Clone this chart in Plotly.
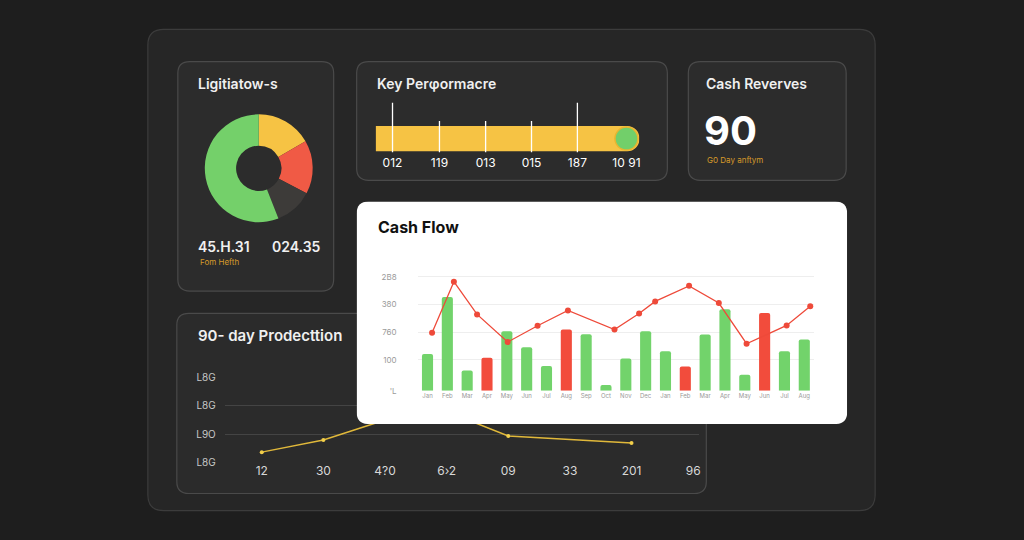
import plotly.graph_objects as go

W, H = 1024, 540
# empirical vertical correction for the capture (figure is shown in ~y 8..533)
OFF, SC = 7.8, 0.973
def fx(p): return p / W
def fy(p): return 1 - ((p - OFF) / SC) / H

# ---------------- data ----------------
donut_labels = ["Active", "Pending", "Closed", "Won"]
donut_values = [16.7, 16, 11.4, 56]
donut_colors = ["#f6c344", "#f05a45", "#3d3b39", "#74d06a"]

kpi_mark_x = [6.4, 24.2, 41.7, 59.1, 76.5]
kpi_mark_h = [51, 33, 33, 33, 51]
kpi_tick_vals = [6.4, 24.2, 41.7, 59.1, 76.5, 95.1]
kpi_tick_text = ["012", "119", "013", "015", "187", "10 91"]
kpi_value = 100
kpi_dot = 95.1

proj_ticks = ["12", "30", "4?0", "6›2", "09", "33", "201", "96"]
proj_x = [0, 1, 2, 3, 4, 6]
proj_y = [0.36, 0.79, 1.5, 1.8, 0.93, 0.68]
proj_ylabels = ["L8G", "L9O", "L8G", "L8G"]

cf_labels = ["Jan", "Feb", "Mar", "Apr", "May", "Jun", "Jul", "Aug", "Sep", "Oct",
             "Nov", "Dec", "Jan", "Feb", "Mar", "Apr", "May", "Jun", "Jul", "Aug"]
cf_bars = [133, 339, 73, 119, 215, 157, 90, 221, 204, 21,
           117, 215, 143, 88, 203, 295, 58, 281, 143, 185]
cf_neg = [3, 7, 13, 17]
cf_line_x = [0.23, 1.33, 2.5, 4.04, 5.55, 7.08, 9.43, 10.67, 11.48, 13.19, 14.69, 16.09, 18.11, 19.3]
cf_line_y = [210, 394, 276, 176, 235, 290, 221, 279, 323, 379, 317, 170, 236, 305]
cf_ytick_vals = [0, 111.6, 211.6, 311.6, 411.6]
cf_ytick_text = ["'L", "100", "760", "380", "2B8"]

GREEN, RED, YELLOW = "#72d36b", "#f24c3c", "#f6c344"
FONT = "Inter"

fig = go.Figure()

def rrect(x0, y0, x1, y1, r, fill, line, lw=1.2):
    X0, X1 = fx(x0), fx(x1)
    Y0, Y1 = fy(y0), fy(y1)
    rx, ry = r / W, r / H
    path = (f"M{X0+rx},{Y0} L{X1-rx},{Y0} Q{X1},{Y0} {X1},{Y0-ry} "
            f"L{X1},{Y1+ry} Q{X1},{Y1} {X1-rx},{Y1} L{X0+rx},{Y1} "
            f"Q{X0},{Y1} {X0},{Y1+ry} L{X0},{Y0-ry} Q{X0},{Y0} {X0+rx},{Y0} Z")
    return dict(type="path", path=path, xref="paper", yref="paper",
                fillcolor=fill, line=dict(color=line, width=lw), layer="below")

shapes = [
    rrect(148, 31, 876, 509, 16, "#262626", "#3c3c3c"),
    rrect(178, 63, 334, 291, 12, "#2c2c2c", "#4a4a4a"),
    rrect(357, 63, 668, 181, 12, "#2c2c2c", "#4a4a4a"),
    rrect(689, 63, 847, 181, 12, "#2c2c2c", "#4a4a4a"),
    rrect(177, 313, 707, 492, 12, "#2b2b2b", "#4a4a4a"),
]

# ---------- donut ----------
fig.add_trace(go.Pie(labels=donut_labels, values=donut_values, hole=0.42, sort=False,
                     direction="clockwise", rotation=0, textinfo="none",
                     marker=dict(colors=donut_colors, line=dict(width=0)),
                     domain=dict(x=[fx(205), fx(313)], y=[fy(223), fy(115)]),
                     showlegend=False))

# ---------- 90-day projection (x/y) ----------
fig.add_trace(go.Scatter(x=proj_x, y=proj_y, mode="lines+markers", xaxis="x", yaxis="y",
                         line=dict(color="#e0b83a", width=1.5),
                         marker=dict(size=4, color="#f2cf4a"), showlegend=False))

# ---------- white panel (x2/y2) ----------
fig.add_trace(go.Scatter(x=[None], y=[None], xaxis="x2", yaxis="y2", showlegend=False))
r = 12
shapes.append(dict(type="path", xref="x2", yref="y2", layer="below",
                   path=(f"M{r},0 L{491-r},0 Q491,0 491,{r} L491,{221-r} Q491,221 {491-r},221 "
                         f"L{r},221 Q0,221 0,{221-r} L0,{r} Q0,0 {r},0 Z"),
                   fillcolor="#ffffff", line=dict(width=0)))

# ---------- cash flow (x3/y3) ----------
bar_colors = [RED if i in cf_neg else GREEN for i in range(len(cf_bars))]
fig.add_trace(go.Bar(x=list(range(len(cf_bars))), y=cf_bars, xaxis="x3", yaxis="y3",
                     width=0.56, marker=dict(color=bar_colors, line=dict(width=0), cornerradius=2),
                     showlegend=False))
fig.add_trace(go.Scatter(x=cf_line_x, y=cf_line_y, mode="lines+markers", xaxis="x3", yaxis="y3",
                         line=dict(color="#ee4a3a", width=1.3),
                         marker=dict(size=6, color="#ee4a3a"), showlegend=False))

# ---------- KPI bar (x4/y4) ----------
fig.add_trace(go.Bar(x=[kpi_value], y=[15.5], width=25, orientation="h", xaxis="x4", yaxis="y4",
                     marker=dict(color=YELLOW, cornerradius="50%", line=dict(width=0)),
                     showlegend=False))
for xv, hv in zip(kpi_mark_x, kpi_mark_h):
    fig.add_trace(go.Scatter(x=[xv, xv], y=[2, hv], mode="lines", xaxis="x4", yaxis="y4",
                             line=dict(color="#ffffff", width=1.3), showlegend=False))
fig.add_trace(go.Scatter(x=[kpi_dot], y=[15.5], mode="markers", xaxis="x4", yaxis="y4",
                         marker=dict(size=23, color="#72cf6a", line=dict(color="#e8b530", width=1.5)),
                         showlegend=False))

layout_axes = dict(
    xaxis=dict(domain=[fx(225), fx(700)], range=[-0.6, 7.1], tickvals=list(range(8)),
               ticktext=proj_ticks, showgrid=False, zeroline=False, showline=False,
               tickfont=dict(color="#d8d8d8", size=12, family=FONT), ticklen=0, anchor="y"),
    yaxis=dict(domain=[fy(461), fy(377)], range=[0, 3], tickvals=[0, 1, 2, 3],
               ticktext=proj_ylabels, showgrid=True, gridcolor="#444444", gridwidth=1,
               zeroline=False, tickfont=dict(color="#c8c8c8", size=10, family=FONT), ticklen=0,
               ticklabelstandoff=8, anchor="x"),
    xaxis2=dict(domain=[fx(357), fx(848)], range=[0, 491], visible=False, fixedrange=True, anchor="y2"),
    yaxis2=dict(domain=[fy(423), fy(202)], range=[221, 0], visible=False, fixedrange=True, anchor="x2"),
    xaxis3=dict(domain=[fx(418), fx(815)], range=[-0.5, 19.5], tickvals=list(range(20)),
                ticktext=cf_labels, showgrid=False, zeroline=False, anchor="y3",
                tickfont=dict(color="#999999", size=6, family=FONT), ticklen=0),
    yaxis3=dict(domain=[fy(390), fy(390 - 430 * 0.275)], range=[0, 430], tickvals=cf_ytick_vals,
                ticktext=cf_ytick_text, showgrid=True, gridcolor="#eeeeee", zeroline=False,
                tickfont=dict(color="#9a9a9a", size=8, family=FONT), ticklen=0, anchor="x3",
                ticklabelstandoff=20),
    xaxis4=dict(domain=[fx(376), fx(640)], range=[0, 100], tickvals=kpi_tick_vals,
                ticktext=kpi_tick_text, showgrid=False, zeroline=False, anchor="y4",
                tickfont=dict(color="#ffffff", size=12, family=FONT), ticklen=0),
    yaxis4=dict(domain=[fy(155), fy(100)], range=[0, 55], visible=False, anchor="x4"),
)

def txt(x, y, s, size, color, weight="normal", anchor="left"):
    return dict(x=fx(x), y=fy(y), xref="paper", yref="paper", text=s, showarrow=False,
                xanchor=anchor, yanchor="middle",
                font=dict(size=size, color=color, family=FONT, weight=weight))

annotations = [
    txt(196, 85, "Ligitiatow-s", 14, "#f0f0f0", 600),
    txt(196, 247, "45.H.31", 14, "#f0f0f0", 600),
    txt(270, 247, "024.35", 14, "#f0f0f0", 600),
    txt(198, 262, "Fom Hefth", 8, "#d79a2a"),
    txt(375, 85, "Key Perφormacre", 14, "#f0f0f0", 600),
    txt(705, 85, "Cash Reverves", 14, "#f0f0f0", 600),
    txt(703, 131, "90", 40, "#ffffff", 700),
    txt(706, 161, "G0 Day anftym", 8, "#d79a2a"),
    txt(196, 335, "90- day Prodecttion", 15, "#f0f0f0", 600),
    txt(376, 227, "Cash Flow", 16, "#111111", 700),
]

fig.update_layout(width=W, height=H, autosize=False, margin=dict(l=0, r=0, t=0, b=0),
                  paper_bgcolor="#1e1e1e", plot_bgcolor="rgba(0,0,0,0)",
                  shapes=shapes, annotations=annotations, bargap=0.4, **layout_axes)
post = ("document.body.style.margin='0';document.body.style.background='#1e1e1e';")
fig.write_html("out.html", config={"displayModeBar": False, "responsive": False}, post_script=post)
